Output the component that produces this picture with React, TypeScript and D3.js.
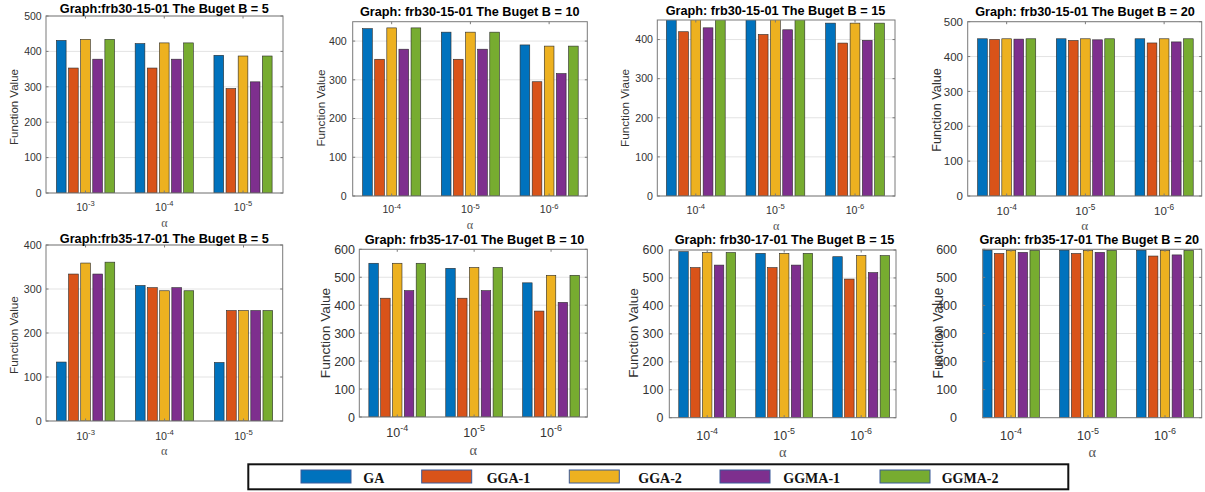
import React from "react";
import * as d3 from "d3";

// ---------- DATA ----------
const seriesNames = ["GA", "GGA-1", "GGA-2", "GGMA-1", "GGMA-2"];
const seriesColors = ["#0072BD", "#D95319", "#EDB120", "#7E2F8E", "#77AC30"];

const titles = [
  "Graph:frb30-15-01 The Buget B = 5",
  "Graph: frb30-15-01 The Buget B = 10",
  "Graph: frb30-15-01 The Buget B = 15",
  "Graph: frb30-15-01 The Buget B = 20",
  "Graph:frb35-17-01 The Buget B = 5",
  "Graph: frb35-17-01 The Buget B = 10",
  "Graph: frb30-17-01 The Buget B = 15",
  "Graph: frb35-17-01 The Buget B = 20",
];
const yLabels = [
  "Function Value",
  "Function Value",
  "Function Viaue",
  "Function Value",
  "Function Value",
  "Function Value",
  "Function Value",
  "Function Value",
];
const exponentsA = ["-3", "-4", "-5"];
const exponentsB = ["-4", "-5", "-6"];
const panelExponents = [exponentsA, exponentsB, exponentsB, exponentsB, exponentsA, exponentsB, exponentsB, exponentsB];

const yMaxes = [500, 450, 450, 500, 400, 600, 600, 600];
const yTicks500 = [0, 100, 200, 300, 400, 500];
const yTicks400 = [0, 100, 200, 300, 400];
const yTicks600 = [0, 100, 200, 300, 400, 500, 600];
const panelYTicks = [yTicks500, yTicks400, yTicks400, yTicks500, yTicks400, yTicks600, yTicks600, yTicks600];

// values per category (rows) for the 5 series (columns)
const p1Values = [[431, 353, 434, 378, 434], [422, 353, 424, 378, 424], [389, 295, 387, 314, 387]];
const p2Values = [[432, 353, 434, 379, 434], [423, 353, 423, 379, 423], [390, 295, 387, 316, 387]];
const p3Values = [[451, 420, 451, 430, 451], [451, 413, 451, 425, 451], [442, 391, 442, 398, 442]];
const p4Values = [[451, 449, 451, 450, 451], [451, 446, 451, 448, 451], [451, 439, 451, 442, 451]];
const p5Values = [[134, 334, 359, 334, 361], [308, 303, 296, 303, 296], [133, 251, 251, 251, 251]];
const p6Values = [[550, 425, 550, 452, 550], [532, 425, 535, 452, 535], [480, 379, 507, 410, 507]];
const p7Values = [[594, 537, 591, 546, 591], [588, 537, 588, 546, 588], [576, 496, 580, 519, 580]];
const p8Values = [[597, 585, 596, 589, 596], [597, 585, 596, 589, 596], [597, 576, 596, 580, 596]];
const panelValues = [p1Values, p2Values, p3Values, p4Values, p5Values, p6Values, p7Values, p8Values];

// ---------- LAYOUT ----------
type Layout = {
  bl: number; br: number; bt: number; bb: number; // axes box
  x0: number; x1: number; // pixel of x=0.5 and x=3.5
  tcx: number; tby: number; // title center x, baseline y
  tickFs: number; tickRight: number; xTickBase: number; alphaBase: number;
  ylx: number; yly: number; ylFs: number;
};
const layouts: Layout[] = [
  { bl: 46, br: 283, bt: 16, bb: 193, x0: 46.1, x1: 282.4, tcx: 164.3, tby: 12.7, tickFs: 10.5, tickRight: 41.7, xTickBase: 211, alphaBase: 227, ylx: 14, yly: 107, ylFs: 11.5 },
  { bl: 352.7, br: 587.3, bt: 21.7, bb: 196, x0: 352.3, x1: 588.5, tcx: 469.7, tby: 16, tickFs: 10.6, tickRight: 346.7, xTickBase: 213.3, alphaBase: 229.3, ylx: 320.7, yly: 108, ylFs: 11.7 },
  { bl: 657.3, br: 895, bt: 20, bb: 196, x0: 656, x1: 894.8, tcx: 775.5, tby: 15, tickFs: 10.6, tickRight: 653, xTickBase: 214, alphaBase: 230, ylx: 625, yly: 108, ylFs: 11.7 },
  { bl: 967.7, br: 1201.7, bt: 21.7, bb: 196, x0: 967.3, x1: 1203.5, tcx: 1085, tby: 16, tickFs: 11.5, tickRight: 963, xTickBase: 215, alphaBase: 230, ylx: 936.7, yly: 110, ylFs: 12.7 },
  { bl: 46, br: 282.7, bt: 245, bb: 421, x0: 46.1, x1: 283, tcx: 164.3, tby: 243.3, tickFs: 10.7, tickRight: 41.7, xTickBase: 440, alphaBase: 455, ylx: 14, yly: 335, ylFs: 11.8 },
  { bl: 359.3, br: 587.3, bt: 249.3, bb: 417, x0: 358.8, x1: 589.5, tcx: 474.5, tby: 244.3, tickFs: 12.5, tickRight: 355, xTickBase: 437, alphaBase: 455, ylx: 325, yly: 333, ylFs: 13.7 },
  { bl: 669.3, br: 896, bt: 250, bb: 417.7, x0: 668.7, x1: 899.7, tcx: 784.5, tby: 244.3, tickFs: 12.4, tickRight: 663.3, xTickBase: 440, alphaBase: 457, ylx: 632.7, yly: 333, ylFs: 13.6 },
  { bl: 982.7, br: 1201.7, bt: 249.3, bb: 417.7, x0: 972.5, x1: 1203.5, tcx: 1089.2, tby: 244.3, tickFs: 12.5, tickRight: 957, xTickBase: 440, alphaBase: 456.7, ylx: 938, yly: 333, ylFs: 13.8 },
];

const legendLayout = {
  left: 248.3, top: 464.3, right: 1068.3, bottom: 489.3,
  swatchX: [301, 421.7, 569.3, 720, 880], swatchW: 50, swatchY: 470, swatchH: 13,
  textX: [363.3, 486.7, 638.3, 783.3, 941.7], textBase: 482.5, fs: 14,
};

const SANS = "'Liberation Sans', Arial, Helvetica, sans-serif";
const SERIF = "'Liberation Serif', 'Times New Roman', serif";

function Panel({ idx }: { idx: number }) {
  const L = layouts[idx];
  const values = panelValues[idx];
  const yMax = yMaxes[idx];
  const x = d3.scaleLinear().domain([0.5, 3.5]).range([L.x0, L.x1]);
  const y = d3.scaleLinear().domain([0, yMax]).range([L.bb, L.bt]);
  const nb = seriesNames.length;
  const groupWidth = Math.min(0.8, nb / (nb + 1.5));
  const slot = groupWidth / nb;
  const barW = slot * 0.8;
  const clipId = `clip${idx}`;
  const tickLen = 2.5;
  return (
    <g>
      <defs>
        <clipPath id={clipId}>
          <rect x={L.bl} y={L.bt} width={L.br - L.bl} height={L.bb - L.bt} />
        </clipPath>
      </defs>
      <rect x={L.bl} y={L.bt} width={L.br - L.bl} height={L.bb - L.bt} fill="#fff" />
      {panelYTicks[idx].map((t) => (
        <line key={"g" + t} x1={L.bl} x2={L.br} y1={y(t)} y2={y(t)} stroke="#e3e3e3" strokeWidth={1} />
      ))}
      <g clipPath={`url(#${clipId})`}>
        {values.map((row, ci) =>
          row.map((v, si) => {
            const cx = ci + 1 - groupWidth / 2 + slot * (si + 0.5);
            const xl = x(cx - barW / 2);
            const xr = x(cx + barW / 2);
            return (
              <rect
                key={ci + "-" + si}
                x={xl}
                y={y(v)}
                width={xr - xl}
                height={y(0) - y(v)}
                fill={seriesColors[si]}
                stroke="#2a2a2a"
                strokeWidth={0.6}
              />
            );
          })
        )}
      </g>
      <rect x={L.bl} y={L.bt} width={L.br - L.bl} height={L.bb - L.bt} fill="none" stroke="#7a7a7a" strokeWidth={1} />
      {panelYTicks[idx].map((t) => (
        <g key={"t" + t}>
          <line x1={L.bl} x2={L.bl + tickLen} y1={y(t)} y2={y(t)} stroke="#7a7a7a" />
          <line x1={L.br} x2={L.br - tickLen} y1={y(t)} y2={y(t)} stroke="#7a7a7a" />
          <text x={L.tickRight} y={y(t)} dy="0.36em" textAnchor="end" fontFamily={SANS} fontSize={L.tickFs} fill="#333">
            {t}
          </text>
        </g>
      ))}
      {[1, 2, 3].map((c, ci) => (
        <g key={"x" + c}>
          <line x1={x(c)} x2={x(c)} y1={L.bb} y2={L.bb - tickLen} stroke="#7a7a7a" />
          <line x1={x(c)} x2={x(c)} y1={L.bt} y2={L.bt + tickLen} stroke="#7a7a7a" />
          <text x={x(c)} y={L.xTickBase} textAnchor="middle" fontFamily={SANS} fontSize={L.tickFs} fill="#333">
            <tspan>10</tspan>
            <tspan fontSize={L.tickFs * 0.72} dy={-L.tickFs * 0.45}>{panelExponents[idx][ci]}</tspan>
          </text>
        </g>
      ))}
      <text x={(L.bl + L.br) / 2} y={L.alphaBase} textAnchor="middle" fontFamily={SERIF} fontSize={L.tickFs * 1.15} fill="#555">
        α
      </text>
      <text
        transform={`translate(${L.ylx},${L.yly}) rotate(-90)`}
        textAnchor="middle"
        dy="0.36em"
        fontFamily={SANS}
        fontSize={L.ylFs}
        fill="#333"
      >
        {yLabels[idx]}
      </text>
      <text x={L.tcx} y={L.tby} textAnchor="middle" fontFamily={SANS} fontWeight="bold" fontSize={12.7} fill="#000">
        {titles[idx]}
      </text>
    </g>
  );
}

export default function App() {
  const G = legendLayout;
  return (
    <svg
      width={1205}
      height={492}
      viewBox="0 0 1205 492"
      style={{ position: "absolute", left: 0, top: 0, background: "#fff" }}
    >
      <rect x={0} y={0} width={1205} height={492} fill="#fff" />
      {layouts.map((_, i) => (
        <Panel key={i} idx={i} />
      ))}
      <rect x={G.left} y={G.top} width={G.right - G.left} height={G.bottom - G.top} fill="#fff" stroke="#111" strokeWidth={2} />
      {seriesNames.map((name, i) => (
        <g key={name}>
          <rect x={G.swatchX[i]} y={G.swatchY} width={G.swatchW} height={G.swatchH} fill={seriesColors[i]} stroke="#3b5a9a" strokeWidth={1} />
          <text x={G.textX[i]} y={G.textBase} fontFamily={SERIF} fontWeight="bold" fontSize={G.fs} fill="#111">
            {name}
          </text>
        </g>
      ))}
    </svg>
  );
}
